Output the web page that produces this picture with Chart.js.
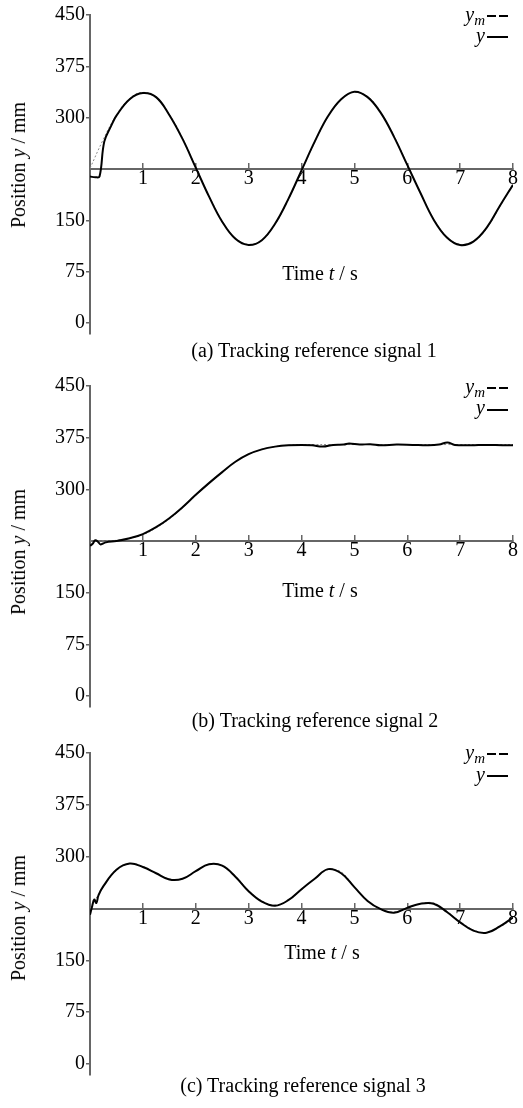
<!DOCTYPE html>
<html>
<head>
<meta charset="utf-8">
<script src="https://cdn.jsdelivr.net/npm/chart.js@4.4.1/dist/chart.umd.min.js"></script>
<style>
  html, body { margin: 0; padding: 0; background: #fff; }
  body { width: 523px; height: 1108px; position: relative; overflow: hidden;
         font-family: "Liberation Serif", "DejaVu Serif", serif; color: #000; }
  .panel { position: absolute; left: 0; width: 523px; }
  .panel canvas { position: absolute; left: 0; top: 0; }
  .txt { position: absolute; font-size: 20px; line-height: 20px; white-space: nowrap; }
  .xtitle, .caption { transform: translate(-50%, -50%); }
  .ytitle { transform: translate(-50%, -50%) rotate(-90deg); }
  .leg { position: absolute; right: 38px; font-size: 20px; line-height: 20px; font-style: italic; white-space: nowrap; }
  .leg sub { font-size: 15px; vertical-align: -4px; line-height: 0; }
  .mark { position: absolute; height: 2px; background: #000; }
</style>
</head>
<body>

<div class="panel" style="top:0;height:369px">
  <canvas id="chartA" width="523" height="369"></canvas>
  <div class="txt ytitle" style="left:18px;top:165px">Position <i>y</i> / mm</div>
  <div class="txt xtitle" style="left:320px;top:273px">Time <i>t</i> / s</div>
  <div class="txt caption" style="left:314px;top:350px">(a) Tracking reference signal 1</div>
  <div class="leg" style="top:4px"><i>y</i><sub>m</sub></div>
  <div class="mark" style="left:487px;top:15px;width:9px"></div>
  <div class="mark" style="left:499px;top:15px;width:9px"></div>
  <div class="leg" style="top:25px"><i>y</i></div>
  <div class="mark" style="left:487px;top:36px;width:21px"></div>
</div>

<div class="panel" style="top:369px;height:369px">
  <canvas id="chartB" width="523" height="369"></canvas>
  <div class="txt ytitle" style="left:18px;top:183px">Position <i>y</i> / mm</div>
  <div class="txt xtitle" style="left:320px;top:221px">Time <i>t</i> / s</div>
  <div class="txt caption" style="left:315px;top:351px">(b) Tracking reference signal 2</div>
  <div class="leg" style="top:7px"><i>y</i><sub>m</sub></div>
  <div class="mark" style="left:487px;top:18px;width:9px"></div>
  <div class="mark" style="left:499px;top:18px;width:9px"></div>
  <div class="leg" style="top:28px"><i>y</i></div>
  <div class="mark" style="left:487px;top:40px;width:21px"></div>
</div>

<div class="panel" style="top:738px;height:370px">
  <canvas id="chartC" width="523" height="370"></canvas>
  <div class="txt ytitle" style="left:18px;top:180px">Position <i>y</i> / mm</div>
  <div class="txt xtitle" style="left:322px;top:214px">Time <i>t</i> / s</div>
  <div class="txt caption" style="left:303px;top:347px">(c) Tracking reference signal 3</div>
  <div class="leg" style="top:4px"><i>y</i><sub>m</sub></div>
  <div class="mark" style="left:487px;top:15px;width:9px"></div>
  <div class="mark" style="left:499px;top:15px;width:9px"></div>
  <div class="leg" style="top:26px"><i>y</i></div>
  <div class="mark" style="left:487px;top:37px;width:21px"></div>
</div>

<script>
// tick labels
const yTicks = [0, 75, 150, 300, 375, 450];
const xTicks = [1, 2, 3, 4, 5, 6, 7, 8];

// time base of the reference signals (s)
const timeRef = [0, 0.25, 0.5, 0.75, 1, 1.25, 1.5, 1.75, 2, 2.25, 2.5, 2.75, 3, 3.25, 3.5, 3.75,
  4, 4.25, 4.5, 4.75, 5, 5.25, 5.5, 5.75, 6, 6.25, 6.5, 6.75, 7, 7.25, 7.5, 7.75, 8];

// (a) reference y_m and measured y
const refA = [226, 268, 304, 328, 337, 329, 305, 270, 228, 186, 149, 124, 115, 121, 144, 180,
  222, 264, 301, 327, 337, 331, 308, 273, 232, 190, 152, 126, 115, 119, 138, 170, 203];
const timeOutA = [0, 0.1, 0.18, 0.27, 0.4, 0.5, 0.75, 1, 1.25, 1.5, 1.75, 2, 2.25, 2.5, 2.75, 3,
  3.25, 3.5, 3.75, 4, 4.25, 4.5, 4.75, 5, 5.25, 5.5, 5.75, 6, 6.25, 6.5, 6.75, 7, 7.25, 7.5, 7.75, 8];
const outA = [214, 213, 214, 265, 288, 303, 327, 336, 330, 304, 269, 227, 185, 148, 123, 114,
  121, 145, 181, 223, 265, 302, 327, 338, 330, 307, 272, 231, 190, 151, 125, 114, 119, 139, 171, 202];

// (b)
const refB = [225, 225, 226, 229, 234, 244, 257, 273, 291, 309, 325, 340, 351, 358, 362, 364,
  365, 365, 365, 365, 365, 365, 365, 365, 365, 365, 365, 365, 365, 365, 365, 365, 365];
const timeOutB = [0, 0.05, 0.1, 0.15, 0.2, 0.3, 0.5, 0.75, 1, 1.25, 1.5, 1.75, 2, 2.25, 2.5, 2.75,
  3, 3.25, 3.5, 3.75, 4, 4.2, 4.4, 4.6, 4.8, 4.9, 5.1, 5.3, 5.5, 5.8, 6.1, 6.4, 6.6, 6.76, 6.9,
  7.2, 7.5, 7.8, 8];
const outB = [218, 221, 226, 224, 220, 223, 225, 229, 235, 245, 258, 274, 292, 309, 325, 340,
  351, 358, 362, 364, 364.5, 364, 362, 364.5, 365, 366.5, 365, 365.5, 364, 365, 364.5, 364, 365, 368, 364.5,
  364, 364.5, 364, 364];

// (c)
const refC = [225, 256, 280, 290, 286, 276, 268, 268, 279, 289, 287, 272, 251, 236, 230, 237,
  252, 268, 281, 278, 256, 236, 224, 220, 226, 232, 233, 221, 206, 194, 190, 198, 211];
const timeOutC = [0, 0.04, 0.08, 0.12, 0.16, 0.25, 0.5, 0.75, 1, 1.25, 1.5, 1.75, 2, 2.25, 2.5, 2.75,
  3, 3.25, 3.5, 3.75, 4, 4.25, 4.5, 4.75, 5, 5.25, 5.5, 5.75, 6, 6.25, 6.5, 6.75, 7, 7.25, 7.5, 7.75, 8];
const outC = [216, 228, 238, 233, 244, 257, 281, 290, 285, 276, 267, 268, 279, 289, 287, 271,
  250, 235, 229, 237, 253, 268, 282, 276, 256, 236, 224, 219, 226, 232, 232, 220, 205, 193, 190, 199, 212];

const tickFont = { family: 'Liberation Serif', size: 20 };

function toPoints(times, values) {
  return times.map((t, i) => ({ x: t, y: values[i] }));
}

function drawPanel(id, tRef, ref, tOut, out, padTop, padBottom) {
  return new Chart(document.getElementById(id), {
    type: 'line',
    data: {
      datasets: [
        { label: 'y', data: toPoints(tOut, out), borderColor: '#000', borderWidth: 2,
          pointRadius: 0, tension: 0.4, fill: false },
        { label: 'ym', data: toPoints(tRef, ref), borderColor: '#8a8a8a', borderWidth: 1,
          borderDash: [2, 2], pointRadius: 0, tension: 0.4, fill: false }
      ]
    },
    options: {
      responsive: false,
      animation: false,
      devicePixelRatio: 1,
      layout: { padding: { left: 0, right: 5, top: padTop, bottom: padBottom } },
      plugins: { legend: { display: false }, tooltip: { enabled: false } },
      scales: {
        x: {
          type: 'linear', min: 0, max: 8,
          position: { y: 225 },
          afterBuildTicks: s => { s.ticks = xTicks.map(v => ({ value: v })); },
          grid: { drawOnChartArea: false, drawTicks: true, tickLength: -7, color: '#666', lineWidth: 1.5 },
          border: { color: '#666', width: 2 },
          ticks: { color: '#000', font: tickFont, padding: 5, maxRotation: 0, autoSkip: false }
        },
        y: {
          type: 'linear', min: -15, max: 450,
          afterBuildTicks: s => { s.ticks = yTicks.map(v => ({ value: v })); },
          afterFit: s => { s.width = 90; },
          grid: { drawOnChartArea: false, drawTicks: true, tickLength: 4, color: '#666', lineWidth: 1.5 },
          border: { color: '#666', width: 2 },
          ticks: { color: '#000', font: tickFont, padding: 1 }
        }
      }
    }
  });
}

// padding bottom leaves the axis line running ~10px below the 0 tick
drawPanel('chartA', timeRef, refA, timeOutA, outA, 15, 369 - 333.3);
drawPanel('chartB', timeRef, refB, timeOutB, outB, 17, 369 - 337.3);
drawPanel('chartC', timeRef, refC, timeOutC, outC, 15, 370 - 336.4);
</script>
</body>
</html>
